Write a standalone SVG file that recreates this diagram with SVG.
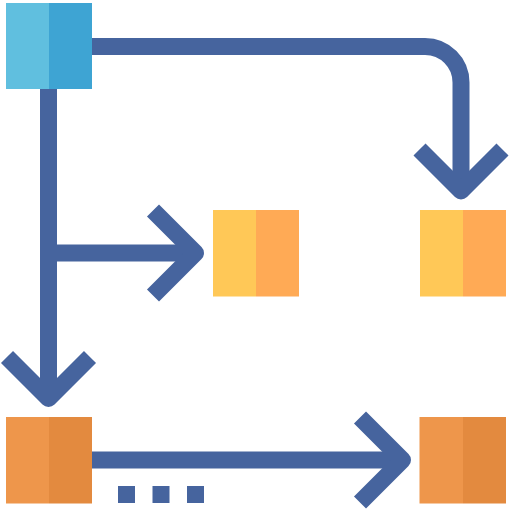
<svg xmlns="http://www.w3.org/2000/svg" width="512" height="512" viewBox="0 0 512 512">
<style>
.ln{fill:none;stroke:#46649e;stroke-width:17;stroke-linejoin:round;stroke-linecap:butt}
.dot{fill:#46649e}
</style>
<rect width="512" height="512" fill="#ffffff"/>
<g id="connectors">
<path class="ln" d="M92,46.5 H425 A36,36 0 0 1 461,82.5 V192"/>
<polyline class="ln" points="419.5,149.5 461,191 502.5,149.5"/>
<path class="ln" d="M48.5,89 V399"/>
<polyline class="ln" points="7,357 48.5,398.5 90,357"/>
<path class="ln" d="M57,253 H195"/>
<polyline class="ln" points="153,210.5 195.5,253 153,295.5"/>
<path class="ln" d="M92,460 H402"/>
<polyline class="ln" points="360,417.5 402.5,460 360,502.5"/>
<rect class="dot" x="118" y="486" width="17" height="17"/>
<rect class="dot" x="152.5" y="486" width="17" height="17"/>
<rect class="dot" x="187" y="486" width="17" height="17"/>
</g>
<g id="source">
<rect x="6" y="3" width="43" height="86" fill="#60bfdf"/>
<rect x="49" y="3" width="43" height="86" fill="#3ea4d3"/>
</g>
<g id="mid-yellow">
<rect x="213" y="210" width="43" height="86.5" fill="#ffc857"/>
<rect x="256" y="210" width="43" height="86.5" fill="#ffaa55"/>
</g>
<g id="right-yellow">
<rect x="420" y="210" width="43" height="86.5" fill="#ffc857"/>
<rect x="463" y="210" width="43" height="86.5" fill="#ffaa55"/>
</g>
<g id="bottom-left">
<rect x="6" y="417" width="43" height="86.5" fill="#ee964b"/>
<rect x="49" y="417" width="43" height="86.5" fill="#e38a3f"/>
</g>
<g id="bottom-right">
<rect x="419.5" y="417" width="43.5" height="86.5" fill="#ee964b"/>
<rect x="463" y="417" width="43" height="86.5" fill="#e38a3f"/>
</g>
</svg>
